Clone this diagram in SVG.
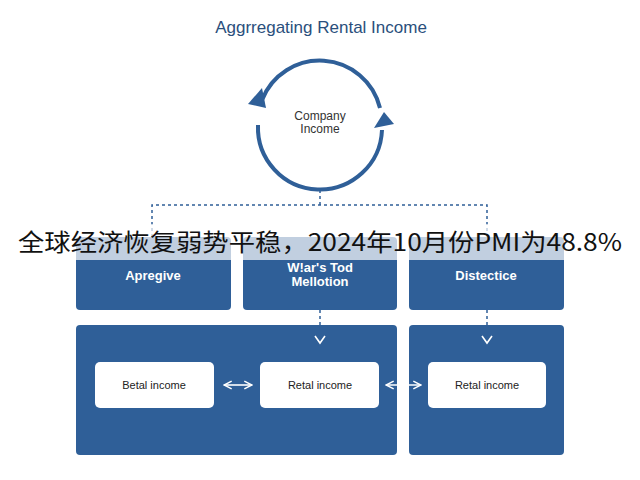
<svg xmlns="http://www.w3.org/2000/svg" width="640" height="480" viewBox="0 0 640 480">
<style>
.t{font-family:"Liberation Sans",Arial,sans-serif}
.blue{fill:#2f5f98}
.wb{fill:#fff}
.dash{stroke:#2f5f98;stroke-width:1.5;stroke-dasharray:3 3;fill:none}
.wl{stroke:#fff;stroke-width:1.6;fill:none}
</style>
<defs>
<marker id="wa" viewBox="0 0 10 10" refX="9" refY="5" markerWidth="6" markerHeight="6" orient="auto-start-reverse"><path d="M1 1L9 5L1 9" fill="none" stroke="#fff" stroke-width="1.6"/></marker>
</defs>
<rect width="640" height="480" fill="#fff"/>
<text class="t" x="321" y="33" text-anchor="middle" font-size="17" fill="#2a4f7c">Aggrregating Rental Income</text>
<g id="company">
<path d="M262 100 A62 62 0 0 1 380 108" fill="none" stroke="#2f5f98" stroke-width="4"/>
<path d="M382 130 A62 62 0 0 1 258 125" fill="none" stroke="#2f5f98" stroke-width="4"/>
<path d="M248 104 L262 88 L266 108z" fill="#2f5f98"/>
<path d="M374 128 L394 124 L384 112z" fill="#2f5f98"/>
<text class="t" x="320" y="120" text-anchor="middle" font-size="12" fill="#333">Company</text>
<text class="t" x="320" y="133" text-anchor="middle" font-size="12" fill="#333">Income</text>
</g>
<g id="connectors">
<path class="dash" d="M320 190V205M152 237V205H487V237M320 310V330M487 310V330"/>
</g>
<g id="apregive"><rect class="blue" x="76" y="237" width="155" height="73" rx="4"/><text class="t" x="153" y="280" text-anchor="middle" font-size="13" font-weight="bold" fill="#fff">Apregive</text></g>
<g id="mellotion"><rect class="blue" x="243" y="237" width="154" height="73" rx="4"/><text class="t" x="320" y="272" text-anchor="middle" font-size="13" font-weight="bold" fill="#fff">W!ar's Tod</text><text class="t" x="320" y="286" text-anchor="middle" font-size="13" font-weight="bold" fill="#fff">Mellotion</text></g>
<g id="distectice"><rect class="blue" x="409" y="237" width="155" height="73" rx="4"/><text class="t" x="486" y="280" text-anchor="middle" font-size="13" font-weight="bold" fill="#fff">Distectice</text></g>
<rect x="0" y="224" width="640" height="36" fill="#fff" fill-opacity="0.7"/>
<text x="18" y="251" font-size="24" textLength="604" lengthAdjust="spacingAndGlyphs" fill="#111" font-family="'Noto Sans CJK SC',sans-serif">全球经济恢复弱势平稳，2024年10月份PMI为48.8%</text>
<g id="groupLeft"><rect class="blue" x="76" y="325" width="321" height="130" rx="4"/></g>
<g id="groupRight"><rect class="blue" x="409" y="325" width="155" height="130" rx="4"/></g>
<g id="arrows">
<path d="M315 336L320 343L325 336M482 336L487 343L492 336" fill="none" stroke="#fff" stroke-width="1.6"/>
<line class="wl" x1="224" y1="385" x2="252" y2="385" marker-start="url(#wa)" marker-end="url(#wa)"/>
<line class="wl" x1="386" y1="385" x2="421" y2="385" marker-start="url(#wa)" marker-end="url(#wa)"/>
</g>
<g id="r1"><rect class="wb" x="95" y="362" width="119" height="46" rx="5"/><text class="t" x="154" y="389" text-anchor="middle" font-size="11" fill="#222">Betal income</text></g>
<g id="r2"><rect class="wb" x="260" y="362" width="119" height="46" rx="5"/><text class="t" x="320" y="389" text-anchor="middle" font-size="11" fill="#222">Retal income</text></g>
<g id="r3"><rect class="wb" x="428" y="362" width="118" height="46" rx="5"/><text class="t" x="487" y="389" text-anchor="middle" font-size="11" fill="#222">Retal income</text></g>
</svg>
